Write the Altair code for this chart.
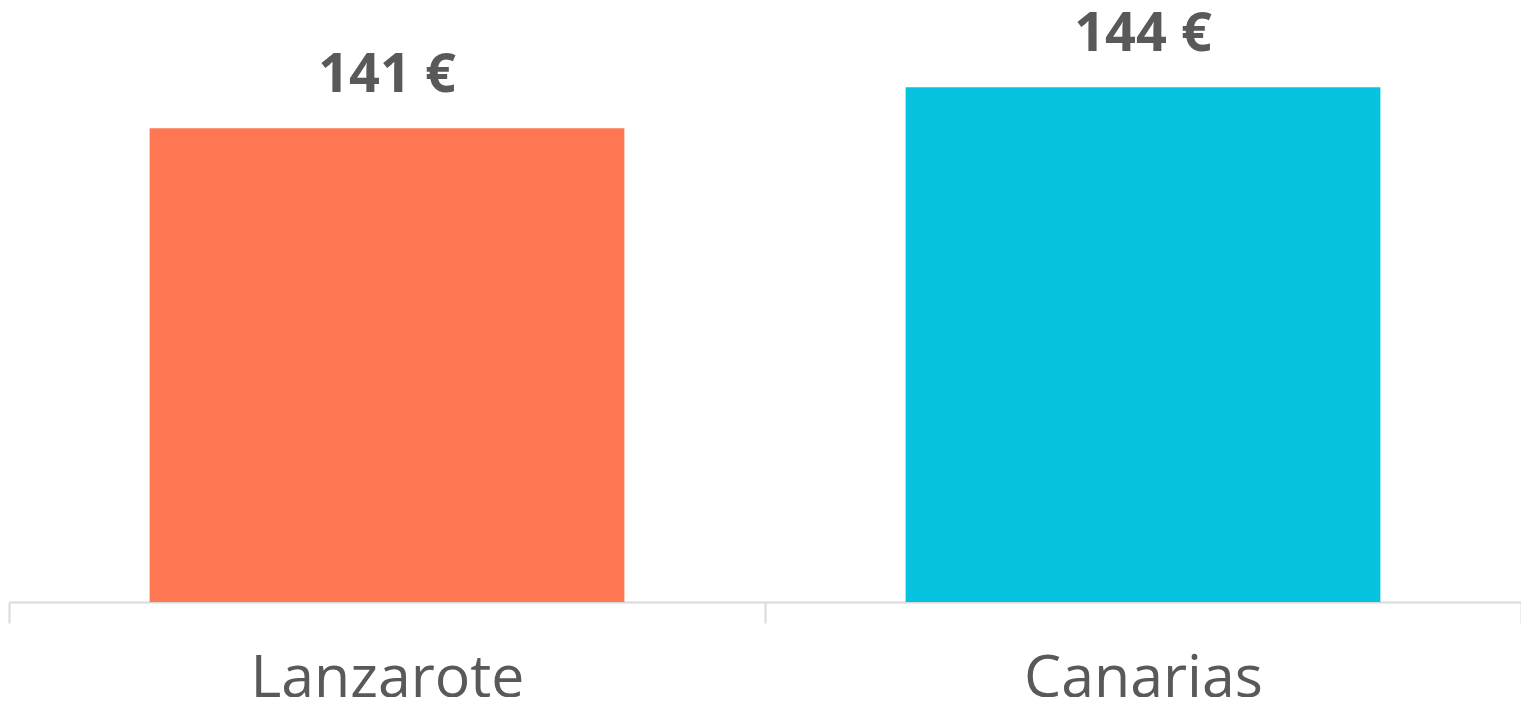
import altair as alt
import pandas as pd

categories = ["Lanzarote", "Canarias"]
values = [141, 144]
labels = ["141 €", "144 €"]
colors = ["#FF7752", "#05C3DE"]
y_min = 106.3
y_max = 149.8

df = pd.DataFrame({"cat": categories, "val": values, "label": labels, "color": colors})

x = alt.X(
    "cat:N",
    sort=categories,
    title=None,
    scale=alt.Scale(paddingInner=0, paddingOuter=0),
    axis=alt.Axis(
        labelAngle=0,
        labelFont="Open Sans",
        labelFontSize=59,
        labelColor="#595959",
        labelBaseline="alphabetic",
        labelPadding=73,
        labelLimit=0,
        domainColor="#d9d9d9",
        domainWidth=2,
        tickColor="#d9d9d9",
        tickWidth=2,
        tickSize=21,
        tickBand="extent",
    ),
)
y = alt.Y("val:Q", axis=None, scale=alt.Scale(domain=[y_min, y_max], zero=False, nice=False))

bars = alt.Chart(df).mark_bar(width=alt.RelativeBandSize(0.628)).encode(
    x=x, y=y, y2=alt.datum(y_min), color=alt.Color("color:N", scale=None)
)
text = alt.Chart(df).mark_text(
    font="Open Sans", fontSize=54, fontWeight="bold", color="#595959",
    baseline="alphabetic", dy=-36,
).encode(x=x, y=y, text="label:N")

chart = (bars + text).properties(
    width=1512, height=594,
    autosize=alt.AutoSizeParams(type="none"),
    padding={"left": 1, "top": 0, "right": 0, "bottom": 95},
).configure_view(stroke=None)

chart.save("out.html", embed_options={"renderer": "svg", "actions": False})
